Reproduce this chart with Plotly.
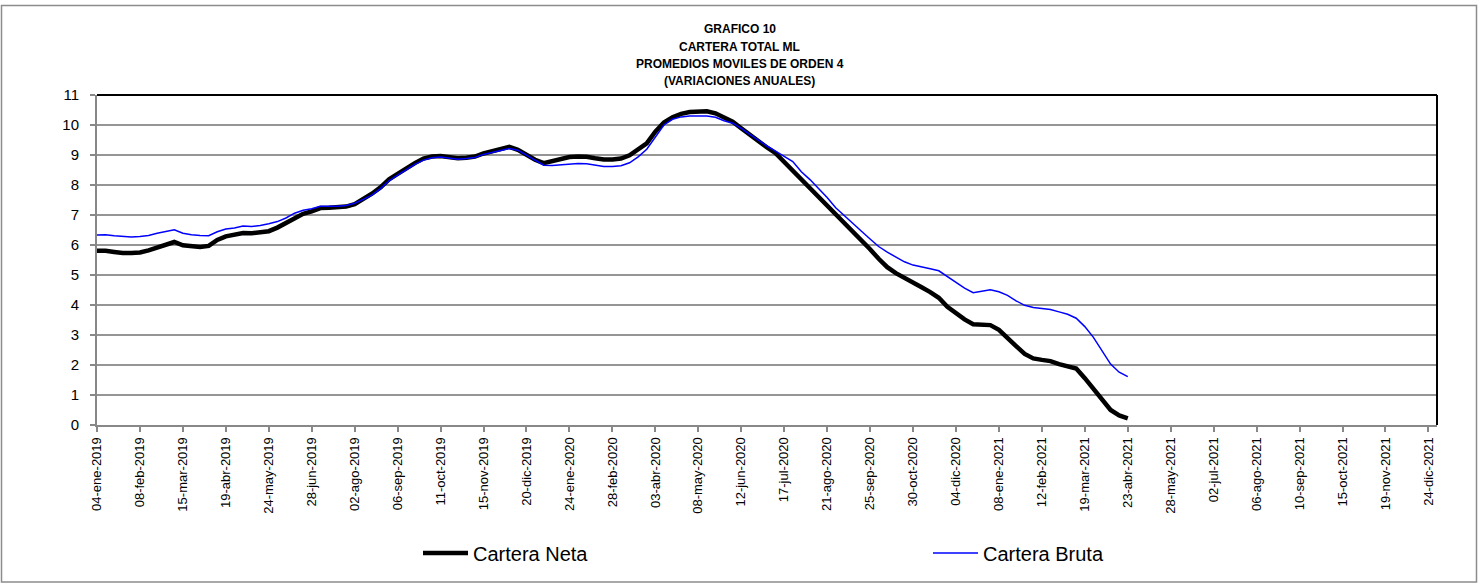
import pandas as pd
import plotly.graph_objects as go

# ---- data (weekly, 4-week moving averages of annual variation, %) ----
start_date = "2019-01-04"
neta = [5.81, 5.81, 5.77, 5.73, 5.73, 5.75, 5.82, 5.91, 6.03, 6.10,
        5.99, 5.95, 5.93, 5.97, 6.17, 6.29, 6.34, 6.40, 6.39, 6.41,
        6.46, 6.58, 6.72, 6.89, 7.04, 7.12, 7.23, 7.24, 7.25, 7.28,
        7.36, 7.53, 7.71, 7.92, 8.19, 8.37, 8.56, 8.73, 8.88, 8.95,
        8.97, 8.94, 8.89, 8.91, 8.95, 9.05, 9.12, 9.19, 9.27, 9.17,
        9.00, 8.84, 8.73, 8.79, 8.88, 8.93, 8.95, 8.94, 8.89, 8.85,
        8.85, 8.88, 8.99, 9.20, 9.39, 9.78, 10.08, 10.26, 10.37, 10.43,
        10.46, 10.46, 10.39, 10.23, 10.11, 9.89, 9.67, 9.44, 9.25, 9.06,
        8.77, 8.52, 8.22, 7.90, 7.62, 7.36, 7.02, 6.76, 6.48, 6.20,
        5.86, 5.54, 5.26, 5.06, 4.89, 4.74, 4.59, 4.43, 4.24, 3.94,
        3.72, 3.52, 3.36, 3.33, 3.33, 3.17, 2.92, 2.63, 2.37, 2.22,
        2.17, 2.13, 2.03, 1.97, 1.88, 1.56, 1.19, 0.81, 0.50, 0.32,
        0.22]
bruta = [6.33, 6.34, 6.31, 6.29, 6.27, 6.28, 6.32, 6.39, 6.46, 6.51,
         6.39, 6.34, 6.32, 6.31, 6.44, 6.53, 6.57, 6.63, 6.62, 6.65,
         6.71, 6.78, 6.90, 7.06, 7.16, 7.21, 7.29, 7.29, 7.29, 7.32,
         7.39, 7.52, 7.66, 7.88, 8.14, 8.33, 8.51, 8.69, 8.83, 8.91,
         8.93, 8.90, 8.86, 8.88, 8.92, 9.02, 9.09, 9.14, 9.22, 9.16,
         9.00, 8.83, 8.66, 8.65, 8.68, 8.70, 8.72, 8.71, 8.66, 8.62,
         8.62, 8.64, 8.74, 8.94, 9.19, 9.60, 10.00, 10.19, 10.27, 10.30,
         10.31, 10.30, 10.26, 10.14, 10.06, 9.89, 9.69, 9.48, 9.30, 9.13,
         8.94, 8.78, 8.44, 8.18, 7.88, 7.58, 7.24, 6.99, 6.72, 6.46,
         6.20, 5.95, 5.76, 5.59, 5.44, 5.33, 5.28, 5.21, 5.14, 4.94,
         4.76, 4.56, 4.41, 4.46, 4.51, 4.44, 4.32, 4.14, 3.99, 3.92,
         3.88, 3.85, 3.77, 3.69, 3.56, 3.28, 2.92, 2.48, 2.03, 1.76,
         1.61]
tick_labels = ["04-ene-2019", "08-feb-2019", "15-mar-2019", "19-abr-2019", "24-may-2019",
               "28-jun-2019", "02-ago-2019", "06-sep-2019", "11-oct-2019", "15-nov-2019",
               "20-dic-2019", "24-ene-2020", "28-feb-2020", "03-abr-2020", "08-may-2020",
               "12-jun-2020", "17-jul-2020", "21-ago-2020", "25-sep-2020", "30-oct-2020",
               "04-dic-2020", "08-ene-2021", "12-feb-2021", "19-mar-2021", "23-abr-2021",
               "28-may-2021", "02-jul-2021", "06-ago-2021", "10-sep-2021", "15-oct-2021",
               "19-nov-2021", "24-dic-2021"]
axis_end = "2021-12-31"
title_lines = ["GRAFICO 10", "CARTERA TOTAL ML", "PROMEDIOS MOVILES DE ORDEN 4", "(VARIACIONES ANUALES)"]

dates = pd.date_range(start_date, periods=len(neta), freq="7D")
tick_dates = pd.date_range(start_date, periods=len(tick_labels), freq="35D")

W, H = 1479, 586
L, R, T, B = 97, 42, 95, 161
pw, ph = W - L - R, H - T - B

def px_x(x):
    return (x - L) / pw

def px_y(y):
    return (H - B - y) / ph

fig = go.Figure()
fig.add_trace(go.Scatter(x=dates, y=neta, name="Cartera Neta", mode="lines",
                         line=dict(color="#000000", width=4.5)))
fig.add_trace(go.Scatter(x=dates, y=bruta, name="Cartera Bruta", mode="lines",
                         line=dict(color="#0000FF", width=1.5)))

fig.update_layout(
    width=W, height=H,
    margin=dict(l=L, r=R, t=T, b=B, autoexpand=False),
    paper_bgcolor="white", plot_bgcolor="white",
    font=dict(family="Arial, Liberation Sans", color="black"),
    showlegend=True,
    legend=dict(orientation="h", x=px_x(418), y=px_y(553), xanchor="left", yanchor="middle",
                font=dict(family="Arial, Liberation Sans", size=20, color="black"),
                entrywidth=450, entrywidthmode="pixels", itemwidth=45,
                bgcolor="rgba(0,0,0,0)", tracegroupgap=0),
    xaxis=dict(type="date", range=[dates[0], pd.Timestamp(axis_end)],
               tickmode="array", tickvals=tick_dates, ticktext=tick_labels,
               tickangle=-90, tickfont=dict(size=13, family="Arial, Liberation Sans"),
               ticks="outside", ticklen=5, tickcolor="#888888", tickwidth=1.5,
               showline=True, linecolor="#888888", linewidth=2,
               showgrid=False, zeroline=False),
    yaxis=dict(range=[0, 11], dtick=1, tick0=0,
               tickfont=dict(size=15, family="Arial, Liberation Sans"),
               ticks="outside", ticklen=5, tickcolor="#888888", tickwidth=1.5,
               ticklabelstandoff=8,
               showline=True, linecolor="#888888", linewidth=2,
               showgrid=True, gridcolor="#959595", gridwidth=1.5,
               zeroline=False),
)

# black plot-area border on top and right
fig.add_shape(type="line", xref="paper", yref="paper", x0=0, x1=1, y0=1, y1=1,
              line=dict(color="black", width=2))
fig.add_shape(type="line", xref="paper", yref="paper", x0=1, x1=1, y0=0, y1=1,
              line=dict(color="black", width=2))
# outer chart border
fig.add_shape(type="rect", xref="paper", yref="paper",
              x0=px_x(1.5), x1=px_x(1476.5), y0=px_y(582), y1=px_y(5.5),
              line=dict(color="#8c8c8c", width=1.5), layer="below")

for k, line in enumerate(title_lines):
    fig.add_annotation(text="<b>" + line + "</b>", xref="paper", yref="paper",
                       x=px_x(739.5), y=px_y(29 + 17.5 * k), xanchor="center", yanchor="middle",
                       showarrow=False, font=dict(size=12, family="Arial, Liberation Sans", color="black"))

fig.write_html("out.html", config={"displayModeBar": False},
               post_script="document.body.style.margin='0';")
